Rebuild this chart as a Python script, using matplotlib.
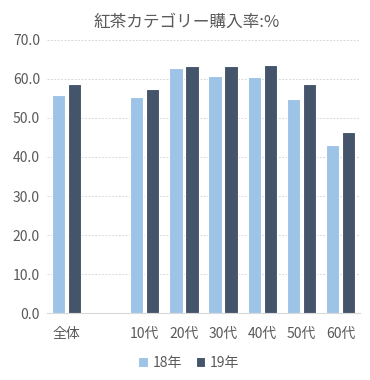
import matplotlib as mpl
import matplotlib.pyplot as plt
import numpy as np

mpl.rcParams["font.family"] = ["Noto Sans CJK JP", "DejaVu Sans"]

categories = ["全体", "", "10代", "20代", "30代", "40代", "50代", "60代"]
y18 = [55.9, np.nan, 55.3, 62.9, 60.7, 60.4, 54.9, 43.2]
y19 = [58.6, np.nan, 57.4, 63.2, 63.2, 63.6, 58.6, 46.5]
series_labels = ["18年", "19年"]
yticks = [0, 10, 20, 30, 40, 50, 60, 70]

C18 = "#9dc3e6"
C19 = "#44546a"
TXT = "#595959"

fig = plt.figure(figsize=(3.7, 3.8), dpi=100)
ax = fig.add_axes([0.127, 0.176, 0.846, 0.719])

x = np.arange(len(categories))
w = 0.34
off = 0.205
ax.bar(x - off, y18, width=w, color=C18, edgecolor="white", linewidth=0.8, label=series_labels[0], zorder=3)
ax.bar(x + off, y19, width=w, color=C19, edgecolor="white", linewidth=0.8, label=series_labels[1], zorder=3)

ax.set_xlim(-0.5, len(categories) - 0.5)
ax.set_ylim(0, 70)
ax.set_yticks(yticks)
ax.set_yticklabels([f"{v:.1f}" for v in yticks], fontsize=10, color=TXT)
ax.set_xticks(x)
ax.set_xticklabels(categories, fontsize=10, color=TXT)
ax.tick_params(axis="both", length=0)
ax.tick_params(axis="x", pad=10)
ax.tick_params(axis="y", pad=5)
ax.grid(axis="y", color="#d9d9d9", linewidth=0.7, linestyle=(0, (2, 1.5)), zorder=0)
ax.spines[["top", "right", "left"]].set_visible(False)
ax.spines["bottom"].set_color("#d9d9d9")

fig.text(0.505, 0.942, "紅茶カテゴリー購入率:%", ha="center", va="center", fontsize=12, color=TXT)
fig.legend(loc="center", bbox_to_anchor=(0.51, 0.045), ncol=2, frameon=False,
           fontsize=10, handlelength=0.7, handleheight=0.7, handletextpad=0.3,
           columnspacing=1.0, labelcolor=TXT)

fig.savefig("out.png", dpi=100)
